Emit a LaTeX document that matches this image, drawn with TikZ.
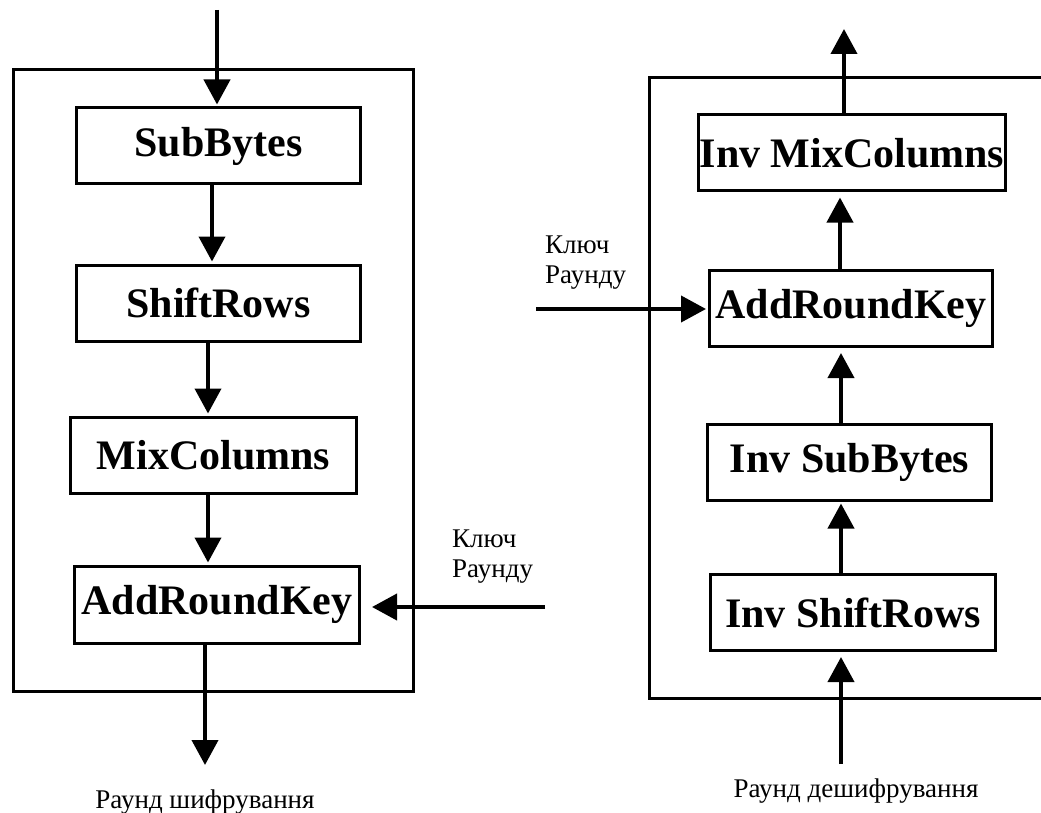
\documentclass[tikz,border=0pt]{standalone}
\usepackage{fontspec}
\setmainfont{Liberation Serif}
\usetikzlibrary{arrows.meta}
\begin{document}
\begin{tikzpicture}[x=1pt,y=-1pt,
  stage/.style={draw, line width=3pt, inner sep=0pt, minimum height=76pt,
    font=\fontsize{42}{48}\selectfont\bfseries},
  flow/.style={line width=4pt, -{Triangle[width=26pt,length=25pt]}, shorten >=2pt},
  caption/.style={font=\fontsize{27}{30}\selectfont, inner sep=0pt},
  frame/.style={line width=3pt}]
\useasboundingbox (0,0) rectangle (1041,813);

% ---------- encryption round ----------
\draw[frame] (13,70) rectangle (413,691);
\node[stage, minimum width=284pt] (sb)  at (218.5,146)   {SubBytes};
\node[stage, minimum width=284pt] (sr)  at (218.5,303)   {ShiftRows};
\node[stage, minimum width=286pt] (mc)  at (213.5,455)   {MixColumns};
\node[stage, minimum width=285pt, minimum height=77pt] (ark) at (217,604.5) {AddRoundKey};

\coordinate (encIn)  at (217,10);
\coordinate (encOut) at (205,765);
\coordinate (encKey) at (545,607);

\draw[flow] (encIn) -- (encIn |- sb.north);
\draw[flow] ([xshift=-6.5pt]sb.south) -- ([xshift=-6.5pt]sr.north);
\draw[flow] ([xshift=-10.5pt]sr.south) -- ([xshift=-5.5pt]mc.north);
\draw[flow] ([xshift=-5.5pt]mc.south) -- ([xshift=-9pt]ark.north);
\draw[flow, shorten >=0pt] ([xshift=-12pt]ark.south) -- (encOut);
\draw[flow, shorten >=11pt] (encKey) -- (encKey -| ark.east);

% two-line key label, placed by the baseline of its last line
\node[caption, align=left, anchor=base west] (encKeyLbl) at (452,577) {Ключ\\Раунду};
\node[caption, anchor=base] (encLbl) at (205,808) {Раунд шифрування};

% ---------- decryption round ----------
\draw[frame] (1050,78) -- (649,78) -- (649,698) -- (1050,698);
\node[stage, minimum width=307pt] (imc)  at (852,153)   {Inv MixColumns};
\node[stage, minimum width=283pt, minimum height=76pt] (ark2) at (851,308.5) {AddRoundKey};
\node[stage, minimum width=284pt] (isb)  at (849.5,462) {Inv SubBytes};
\node[stage, minimum width=285pt, minimum height=76pt] (isr)  at (853,612.5) {Inv ShiftRows};

\coordinate (decOut) at (844,29);
\coordinate (decIn)  at (841,764);
\coordinate (decKey) at (536,309);

\draw[flow, shorten >=0pt] ([xshift=-8pt]imc.north) -- (decOut);
\draw[flow, shorten >=5pt] ([xshift=-11pt]ark2.north) -- ([xshift=-12pt]imc.south);
\draw[flow, shorten >=5pt] ([xshift=-8.5pt]isb.north) -- ([xshift=-10pt]ark2.south);
\draw[flow] ([xshift=-12pt]isr.north) -- ([xshift=-8.5pt]isb.south);
\draw[flow, shorten >=5pt] (decIn) -- (decIn |- isr.south);
\draw[flow] (decKey) -- (decKey -| ark2.west);

\node[caption, align=left, anchor=base west] (decKeyLbl) at (545,283) {Ключ\\Раунду};
\node[caption, anchor=base] (decLbl) at (856,797) {Раунд дешифрування};
\end{tikzpicture}
\end{document}
